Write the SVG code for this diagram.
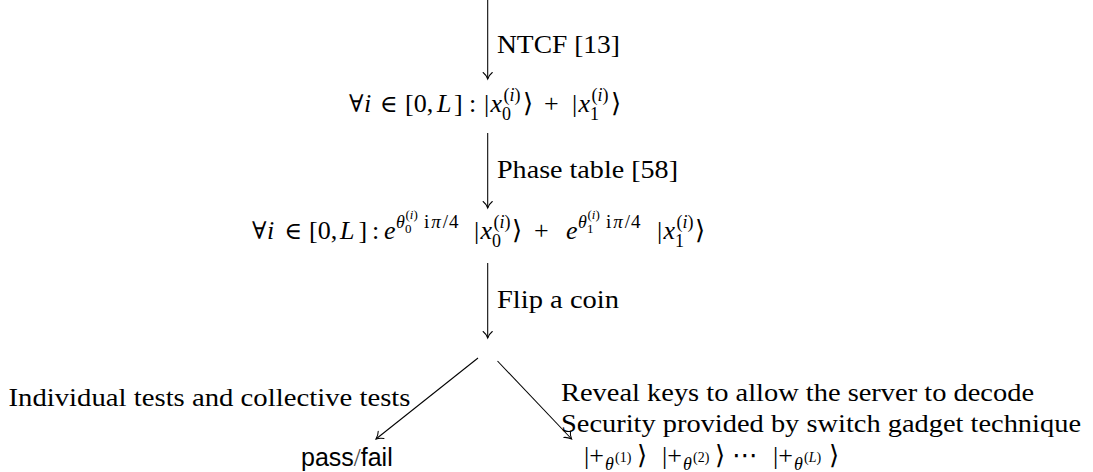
<svg xmlns="http://www.w3.org/2000/svg" width="1093" height="472" viewBox="0 0 1093 472">
<defs>
<style>
.t{font-family:"Liberation Serif","DejaVu Serif",serif;font-size:26px;fill:#000}
.m{font-family:"Liberation Serif","DejaVu Serif",serif;font-size:26px;fill:#000}
.it{font-style:italic}
.s{font-size:18px}
.e{font-size:19px}
.ss{font-size:13px}
.k{font-size:14px}
.sym{font-family:"DejaVu Serif","DejaVu Sans",serif;font-size:24px}
.ang{font-family:"DejaVu Sans",sans-serif;font-size:26px}
.sf{font-family:"Liberation Sans","DejaVu Sans",sans-serif;font-size:25px;fill:#000}
.ln{stroke:#000;stroke-width:1.05;fill:none}
</style>
<marker id="to" markerUnits="userSpaceOnUse" viewBox="-10 -6 12 12" refX="0" refY="0" markerWidth="12" markerHeight="12" orient="auto">
<path d="M -6.5,-4.6 C -4.8,-2.4 -1.8,-0.7 0,0 C -1.8,0.7 -4.8,2.4 -6.5,4.6" fill="none" stroke="#000" stroke-width="1.05" stroke-linecap="round"/>
</marker>
</defs>
<g id="connectors">
<line class="ln" x1="487.7" y1="0" x2="487.7" y2="79" marker-end="url(#to)"/>
<line class="ln" x1="487.7" y1="133" x2="487.7" y2="208" marker-end="url(#to)"/>
<line class="ln" x1="487.7" y1="263" x2="487.7" y2="338" marker-end="url(#to)"/>
<line class="ln" x1="478" y1="358" x2="376" y2="439" marker-end="url(#to)"/>
<line class="ln" x1="497.5" y1="361" x2="571.6" y2="439" marker-end="url(#to)"/>
</g>
<g id="label-ntcf"><text class="t" x="497" y="53" textLength="123" lengthAdjust="spacingAndGlyphs">NTCF [13]</text></g>
<g id="label-phase"><text class="t" x="497" y="178" textLength="181" lengthAdjust="spacingAndGlyphs">Phase table [58]</text></g>
<g id="label-flip"><text class="t" x="497" y="308" textLength="122" lengthAdjust="spacingAndGlyphs">Flip a coin</text></g>
<g id="node-state1">
<text class="sym" x="349" y="112">∀</text>
<text class="m it" x="364" y="112">i</text>
<text class="sym" x="380" y="112">∈</text>
<text class="m" x="405" y="112">[0,</text>
<text class="m it" x="437" y="112">L</text>
<text class="m" x="454" y="112">]</text>
<text class="m" x="469" y="112">:</text>
<text class="m" x="484" y="112">|</text>
<text class="m it" x="490.5" y="112">x</text>
<text class="m s" x="503.5" y="101">(<tspan class="it">i</tspan>)</text>
<text class="m s" x="502" y="120">0</text>
<text class="ang" x="523" y="112">⟩</text>
<text class="m" x="544" y="112">+</text>
<text class="m" x="572" y="112">|</text>
<text class="m it" x="578.5" y="112">x</text>
<text class="m s" x="591.5" y="101">(<tspan class="it">i</tspan>)</text>
<text class="m s" x="590" y="120">1</text>
<text class="ang" x="611" y="112">⟩</text>
</g>
<g id="node-state2">
<text class="sym" x="252" y="239">∀</text>
<text class="m it" x="267" y="239">i</text>
<text class="sym" x="284.5" y="239">∈</text>
<text class="m" x="309" y="239">[0,</text>
<text class="m it" x="340" y="239">L</text>
<text class="m" x="358.5" y="239">]</text>
<text class="m" x="372" y="239">:</text>
<text class="m it" x="384" y="239">e</text>
<text class="m s it" x="396" y="228">θ</text>
<text class="m ss" x="405.5" y="219">(<tspan class="it">i</tspan>)</text>
<text class="m ss" x="405" y="233">0</text>
<text class="m e" x="424" y="228">i<tspan class="it" dx="2">π</tspan><tspan dx="2">/</tspan><tspan dx="1">4</tspan></text>
<text class="m" x="474" y="239">|</text>
<text class="m it" x="480.5" y="239">x</text>
<text class="m s" x="493.5" y="228">(<tspan class="it">i</tspan>)</text>
<text class="m s" x="492" y="247">0</text>
<text class="ang" x="512" y="239">⟩</text>
<text class="m" x="534" y="239">+</text>
<text class="m it" x="566" y="239">e</text>
<text class="m s it" x="578" y="228">θ</text>
<text class="m ss" x="587.5" y="219">(<tspan class="it">i</tspan>)</text>
<text class="m ss" x="587" y="233">1</text>
<text class="m e" x="606" y="228">i<tspan class="it" dx="2">π</tspan><tspan dx="2">/</tspan><tspan dx="1">4</tspan></text>
<text class="m" x="657" y="239">|</text>
<text class="m it" x="663.5" y="239">x</text>
<text class="m s" x="676.5" y="228">(<tspan class="it">i</tspan>)</text>
<text class="m s" x="675" y="247">1</text>
<text class="ang" x="695" y="239">⟩</text>
</g>
<g id="label-tests"><text class="t" x="8.5" y="406" textLength="402" lengthAdjust="spacingAndGlyphs">Individual tests and collective tests</text></g>
<g id="label-reveal">
<text class="t" x="561" y="401" textLength="473" lengthAdjust="spacingAndGlyphs">Reveal keys to allow the server to decode</text>
<text class="t" x="561" y="432" textLength="520" lengthAdjust="spacingAndGlyphs">Security provided by switch gadget technique</text>
</g>
<g id="node-passfail"><text class="sf" x="301" y="466">pass<tspan font-family="Liberation Serif,serif" fill="#444">/</tspan>fail</text></g>
<g id="node-kets">
<text class="m" x="584" y="464">|+</text>
<text class="m s it" x="605" y="470">θ</text>
<text class="m k" x="615" y="462">(1)</text>
<text class="ang" x="637" y="464">⟩</text>
<text class="m" x="662" y="464">|+</text>
<text class="m s it" x="683" y="470">θ</text>
<text class="m k" x="693" y="462">(2)</text>
<text class="ang" x="715" y="464">⟩</text>
<text class="ang" x="732" y="464">⋯</text>
<text class="m" x="773" y="464">|+</text>
<text class="m s it" x="794" y="470">θ</text>
<text class="m k" x="804" y="462">(<tspan class="it">L</tspan>)</text>
<text class="ang" x="829" y="464">⟩</text>
</g>
</svg>
